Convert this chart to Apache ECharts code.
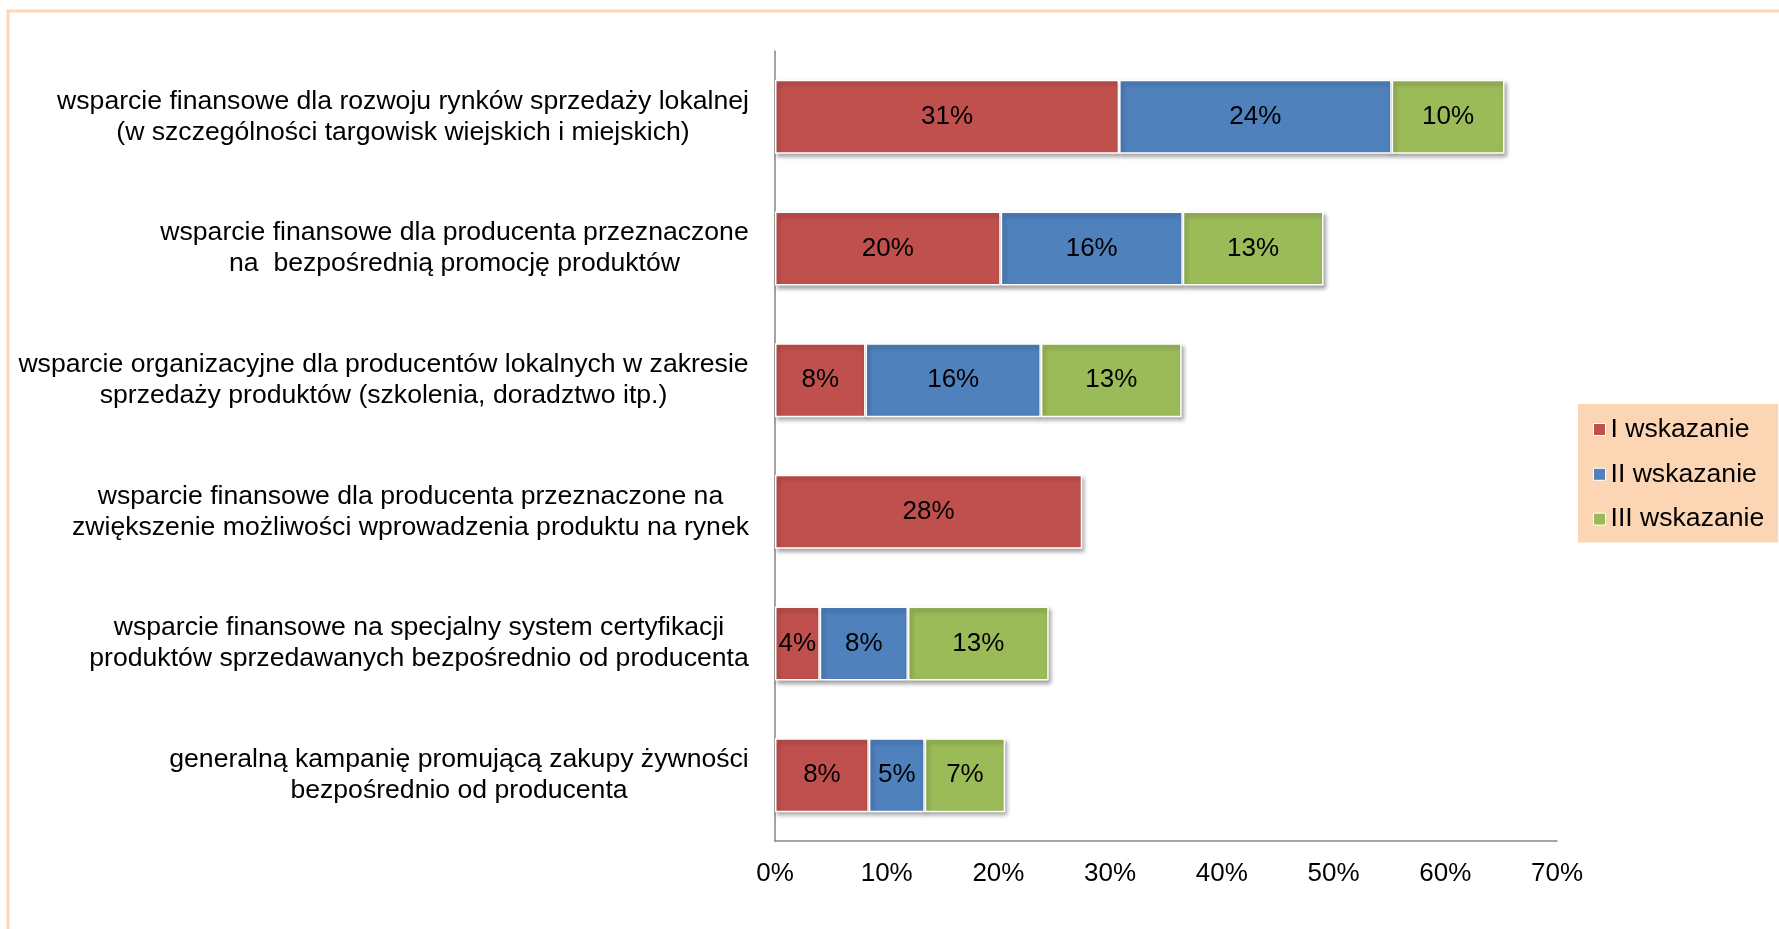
<!DOCTYPE html>
<html>
<head>
<meta charset="utf-8">
<style>
  html, body { margin: 0; padding: 0; background: #ffffff; }
  #chart { width: 1779px; height: 929px; }
</style>
<script src="https://cdn.jsdelivr.net/npm/echarts@6/dist/echarts.min.js"></script>
</head>
<body>
<div id="chart"></div>
<script>
// ---- data ----
const categories = [
  "wsparcie finansowe dla rozwoju rynków sprzedaży lokalnej\n(w szczególności targowisk wiejskich i miejskich)",
  "wsparcie finansowe dla producenta przeznaczone\nna  bezpośrednią promocję produktów",
  "wsparcie organizacyjne dla producentów lokalnych w zakresie\nsprzedaży produktów (szkolenia, doradztwo itp.)",
  "wsparcie finansowe dla producenta przeznaczone na\nzwiększenie możliwości wprowadzenia produktu na rynek",
  "wsparcie finansowe na specjalny system certyfikacji\nproduktów sprzedawanych bezpośrednio od producenta",
  "generalną kampanię promującą zakupy żywności\nbezpośrednio od producenta"
];
const seriesNames = ["I wskazanie", "II wskazanie", "III wskazanie"];
const valuesI   = [30.8, 20.2, 8.1, 27.5, 4.0, 8.4];
const valuesII  = [24.4, 16.3, 15.7, 0, 7.9, 5.0];
const valuesIII = [10.1, 12.6, 12.6, 0, 12.6, 7.2];
const xTicks = { min: 0, max: 70, interval: 10 };

// ---- styling ----
const FONT = '"Liberation Sans", Arial, sans-serif';
const FS = 26;
const CFS = 26.6;
const colors = ['#C0504D', '#4F81BD', '#9BBB59'];

// measure category label lines to build centered-line, right-aligned blocks
const cv = document.createElement('canvas');
const ctx = cv.getContext('2d');
ctx.font = 'normal normal ' + CFS + 'px ' + FONT;
const rich = {};
categories.forEach((c, i) => {
  const w = Math.max.apply(null, c.split('\n').map(l => ctx.measureText(l).width));
  rich['l' + i] = { width: Math.ceil(w) + 2, align: 'center', fontSize: CFS, lineHeight: 31, color: '#000', fontFamily: FONT };
});

function toData(arr) { return arr.map(v => v === 0 ? '-' : v); }
const allValues = [valuesI, valuesII, valuesIII];

const chart = echarts.init(document.getElementById('chart'), null, { renderer: 'canvas' });
chart.setOption({
  animation: false,
  backgroundColor: '#ffffff',
  textStyle: { fontFamily: FONT },
  graphic: [{
    type: 'rect', z: -10, silent: true,
    shape: { x: 8, y: 11, width: 1800, height: 960 },
    style: { fill: 'none', stroke: '#FBD6B8', lineWidth: 3 }
  }],
  grid: { left: 775, right: 222, top: 51, bottom: 88, containLabel: false },
  legend: {
    orient: 'vertical', left: 1578, top: 404,
    backgroundColor: '#FCD5B4',
    padding: [12, 14, 10, 15],
    itemWidth: 12, itemHeight: 12, itemGap: 17.8,
    icon: 'rect',
    itemStyle: { borderColor: '#ffffff', borderWidth: 1 },
    textStyle: { fontSize: CFS, color: '#000', fontFamily: FONT },
    data: seriesNames
  },
  xAxis: {
    type: 'value', min: xTicks.min, max: xTicks.max, interval: xTicks.interval,
    axisLine: { show: true, lineStyle: { color: '#868686', width: 1.5 } },
    axisTick: { show: false },
    splitLine: { show: false },
    axisLabel: { formatter: '{value}%', fontSize: FS, color: '#000', margin: 20, fontFamily: FONT }
  },
  yAxis: {
    type: 'category', inverse: true, data: categories,
    axisLine: { show: true, lineStyle: { color: '#868686', width: 1.5 } },
    axisTick: { show: false },
    axisLabel: {
      margin: 25, align: 'right', rich: rich,
      formatter: function (value, index) {
        return value.split('\n').map(l => '{l' + index + '|' + l + '}').join('\n');
      }
    }
  },
  series: seriesNames.map((name, si) => ({
    name: name, type: 'bar', stack: 'total', barWidth: 74,
    data: toData(allValues[si]),
    itemStyle: {
      color: colors[si], borderColor: '#ffffff', borderWidth: 1.5,
      shadowColor: 'rgba(0,0,0,0.35)', shadowBlur: 4, shadowOffsetX: 2, shadowOffsetY: 3
    },
    label: {
      show: true, position: 'inside', color: '#000', fontSize: FS, fontFamily: FONT,
      formatter: p => Math.round(p.value) + '%'
    }
  }))
});
</script>
</body>
</html>
